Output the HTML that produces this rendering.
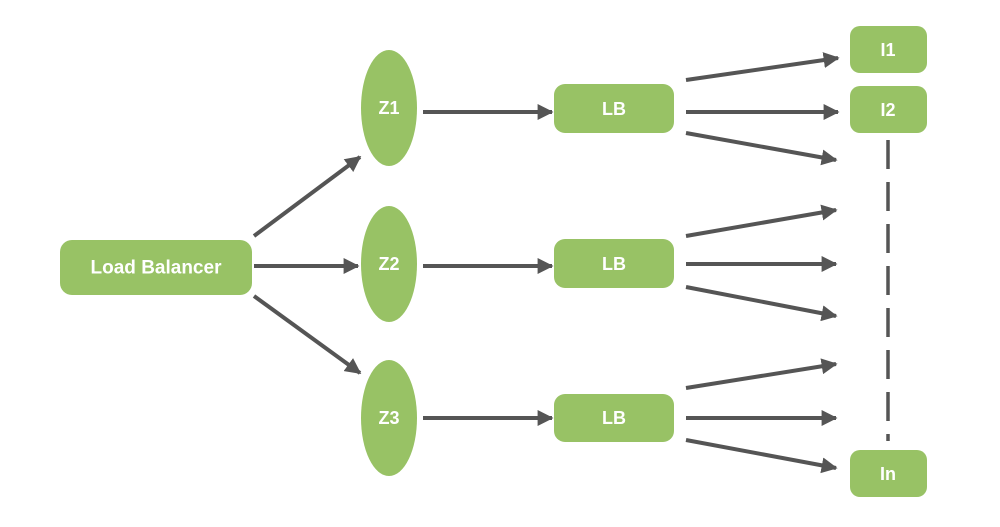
<!DOCTYPE html>
<html><head><style>body{margin:0;background:#fff}svg{display:block}text{font-family:"Liberation Sans",sans-serif;font-weight:bold;fill:#fff;text-anchor:middle;dominant-baseline:central}</style></head><body>
<svg width="1000" height="527" viewBox="0 0 1000 527">
<defs><marker id="a" viewBox="0 0 10 10" refX="9" refY="5" markerWidth="4" markerHeight="4" orient="auto" markerUnits="strokeWidth"><path d="M0,0L10,5L0,10z" fill="#555"/></marker></defs>
<g fill="#98c265">
<rect x="60" y="240" width="192" height="55" rx="12"/>
<ellipse cx="389" cy="108" rx="28" ry="58"/>
<ellipse cx="389" cy="264" rx="28" ry="58"/>
<ellipse cx="389" cy="418" rx="28" ry="58"/>
<rect x="554" y="84" width="120" height="49" rx="11"/>
<rect x="554" y="239" width="120" height="49" rx="11"/>
<rect x="554" y="394" width="120" height="48" rx="11"/>
<rect x="850" y="26" width="77" height="47" rx="10"/>
<rect x="850" y="86" width="77" height="47" rx="10"/>
<rect x="850" y="450" width="77" height="47" rx="10"/>
</g>
<g font-size="19"><text x="156" y="268">Load Balancer</text></g>
<g font-size="18"><text x="389" y="108">Z1</text><text x="389" y="264">Z2</text><text x="389" y="418">Z3</text>
<text x="614" y="109">LB</text><text x="614" y="264">LB</text><text x="614" y="418">LB</text>
<text x="888" y="50">I1</text><text x="888" y="110">I2</text><text x="888" y="474">In</text></g>
<g stroke="#555" stroke-width="4" fill="none" marker-end="url(#a)">
<path d="M254 236L360 157"/><path d="M254 266L358 266"/><path d="M254 296L360 373"/>
<path d="M423 112L552 112"/><path d="M423 266L552 266"/><path d="M423 418L552 418"/>
<path d="M686 80L838 58"/><path d="M686 112L838 112"/><path d="M686 133L836 160"/>
<path d="M686 236L836 210"/><path d="M686 264L836 264"/><path d="M686 287L836 316"/>
<path d="M686 388L836 364"/><path d="M686 418L836 418"/><path d="M686 440L836 468"/>
</g>
<path d="M888 140V441" stroke="#555" stroke-width="3.5" stroke-dasharray="29 13"/>
</svg></body></html>
